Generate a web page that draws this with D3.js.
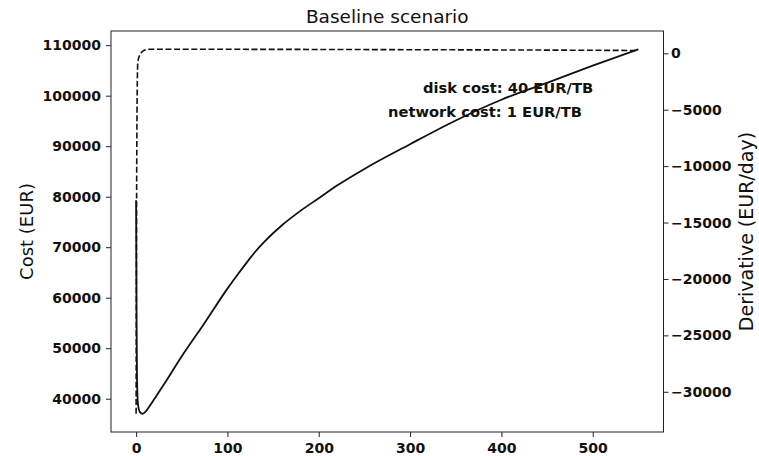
<!DOCTYPE html>
<html>
<head>
<meta charset="utf-8">
<script src="https://cdn.jsdelivr.net/npm/d3@7/dist/d3.min.js"></script>
<style>
  html, body { margin: 0; padding: 0; background: #fff; }
  svg { display: block; font-family: "DejaVu Sans", sans-serif; }
  .tick text { font-family: "DejaVu Sans", sans-serif; font-weight: bold; font-size: 14px; fill: #111; }
  .tick line { stroke: #222; }
</style>
</head>
<body>
<svg id="chart" width="759" height="456"></svg>
<script>
// Days since start
const days = [0, 0.5, 1, 2, 4, 7, 10, 15, 20, 30, 50, 75, 100, 110, 120, 130, 140, 160, 180, 200, 220, 250, 300, 350, 400, 450, 500, 550];
// Cumulative cost (EUR)
const cost = [79300, 55000, 44000, 39000, 37400, 37020, 37400, 38600, 39950, 42700, 48400, 55000, 61800, 64300, 66700, 69000, 71000, 74400, 77200, 79700, 82200, 85500, 90400, 95100, 99200, 102550, 105950, 109200];
// Derivative of the cost (EUR/day), sampled on its own grid
const derivDays = [0, 0.5, 1, 1.8, 2.5, 3.6, 5.8, 9, 14.6, 25, 50, 150, 300, 450, 550];
const derivative = [-31950, -14000, -5000, -860, -500, -240, 70, 265, 355, 362, 360, 350, 320, 285, 250];

const xTicks = [0, 100, 200, 300, 400, 500];
const costTicks = [40000, 50000, 60000, 70000, 80000, 90000, 100000, 110000];
const derivTicks = [-30000, -25000, -20000, -15000, -10000, -5000, 0];

const m = { left: 111, right: 663.5, top: 31, bottom: 432 };

// matplotlib-style 5% padding around the data extent
function padded(ext) {
  const p = (ext[1] - ext[0]) * 0.05;
  return [ext[0] - p, ext[1] + p];
}

const svg = d3.select("#chart");

const x = d3.scaleLinear().domain(padded([0, 550])).range([m.left, m.right]);
const yCost = d3.scaleLinear().domain(padded(d3.extent(cost))).range([m.bottom, m.top]);
const yDeriv = d3.scaleLinear().domain(padded(d3.extent(derivative))).range([m.bottom, m.top]);

const minus = s => String(s).replace("-", "\u2212");

// Axes
const xAxis = d3.axisBottom(x).tickValues(xTicks).tickSize(5).tickPadding(6).tickFormat(d => d);
const leftAxis = d3.axisLeft(yCost).tickValues(costTicks).tickSize(5).tickPadding(5).tickFormat(d => d);
const rightAxis = d3.axisRight(yDeriv).tickValues(derivTicks).tickSize(5).tickPadding(2.5).tickFormat(d => minus(d));

svg.append("g").attr("transform", `translate(0,${m.bottom})`).call(xAxis)
  .call(g => g.select(".domain").remove());
svg.append("g").attr("transform", `translate(${m.left},0)`).call(leftAxis)
  .call(g => g.select(".domain").remove());
svg.append("g").attr("transform", `translate(${m.right},0)`).call(rightAxis)
  .call(g => g.select(".domain").remove());

// Plot frame
svg.append("rect")
  .attr("x", m.left).attr("y", m.top)
  .attr("width", m.right - m.left).attr("height", m.bottom - m.top)
  .attr("fill", "none").attr("stroke", "#222").attr("stroke-width", 1);

svg.append("clipPath").attr("id", "plot-clip")
  .append("rect").attr("x", m.left).attr("y", m.top)
  .attr("width", m.right - m.left).attr("height", m.bottom - m.top);

const plot = svg.append("g").attr("clip-path", "url(#plot-clip)");

// Cost curve
plot.append("path")
  .datum(days.map((d, i) => [d, cost[i]]))
  .attr("fill", "none").attr("stroke", "#111").attr("stroke-width", 1.8)
  .attr("stroke-linejoin", "round")
  .attr("d", d3.line().x(d => x(d[0])).y(d => yCost(d[1])).curve(d3.curveMonotoneX));

// Derivative curve (dashed, right axis)
plot.append("path")
  .datum(derivDays.map((d, i) => [d, derivative[i]]))
  .attr("fill", "none").attr("stroke", "#111").attr("stroke-width", 1.6)
  .attr("stroke-dasharray", "6,2.6")
  .attr("d", d3.line().x(d => x(d[0])).y(d => yDeriv(d[1])).curve(d3.curveMonotoneX));

// Annotations
svg.append("text").attr("x", 423).attr("y", 93)
  .attr("font-size", 14.7).attr("font-weight", "bold").attr("fill", "#111")
  .text("disk cost: 40 EUR/TB");
svg.append("text").attr("x", 388).attr("y", 116.5)
  .attr("font-size", 14.7).attr("font-weight", "bold").attr("fill", "#111")
  .text("network cost: 1 EUR/TB");

// Title
svg.append("text").attr("x", (m.left + m.right) / 2).attr("y", 23)
  .attr("text-anchor", "middle").attr("font-size", 18.5).attr("fill", "#111")
  .text("Baseline scenario");

// Axis titles
svg.append("text").attr("transform", `translate(33,${(m.top + m.bottom) / 2}) rotate(-90)`)
  .attr("text-anchor", "middle").attr("font-size", 18).attr("fill", "#111")
  .text("Cost (EUR)");
svg.append("text").attr("transform", `translate(753,${(m.top + m.bottom) / 2}) rotate(-90)`)
  .attr("text-anchor", "middle").attr("font-size", 19).attr("fill", "#111")
  .text("Derivative (EUR/day)");
</script>
</body>
</html>
